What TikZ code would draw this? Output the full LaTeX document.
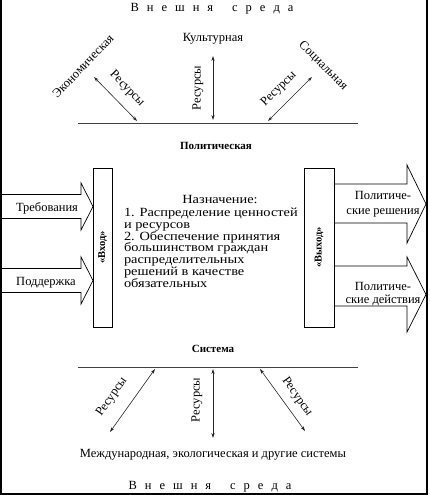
\documentclass[tikz,border=0pt]{standalone}
\usepackage{fontspec}
\setmainfont{Liberation Serif}
\newfontfamily\widefont[FakeStretch=1.15]{Liberation Serif}
\usetikzlibrary{arrows.meta}
\newcommand\lsp{\kern8pt}
\begin{document}
\begin{tikzpicture}[x=1pt,y=-1pt,
  every node/.style={inner sep=0pt, outer sep=0pt},
  lbl/.style={font=\fontsize{12.5}{14}\selectfont},
  bld/.style={font=\bfseries\fontsize{11}{13}\selectfont},
  midtxt/.style={font=\widefont\fontsize{12.5}{12}\selectfont, anchor=base west},
  res/.style={line width=0.6pt, black!85, {Stealth[length=5pt,width=3.2pt]}-{Stealth[length=5pt,width=3.2pt]}},
  blk/.style={line width=0.7pt, line join=miter},
  hline/.style={line width=0.6pt, black!75},
  ioBox/.style={draw, line width=0.7pt, rotate=90, minimum width=159pt, font=\bfseries\fontsize{10.5}{12}\selectfont}
]
\useasboundingbox (0,0) rectangle (429,495);
% frame
\draw[line width=2pt] (1,0) -- (1,493.5) -- (426.5,493.5) -- (426.5,0);

% top environment label
\node[lbl, anchor=base] (envtop) at (212,12) {В\lsp н\lsp е\lsp ш\lsp н\lsp я\lsp\kern11pt с\lsp р\lsp е\lsp д\lsp а};
\node[lbl, anchor=base] (envbot) at (210,489.5) {В\lsp н\lsp е\lsp ш\lsp н\lsp я\lsp\kern11pt с\lsp р\lsp е\lsp д\lsp а};

% top subsystems
\node[lbl, anchor=base] (cult) at (213,42) {Культурная};
\node[lbl, rotate=46] (econ) at (83,66) {Экономическая};
\node[lbl, rotate=-45] (soc) at (323,66) {Социальная};

% top line
\coordinate (tla) at (78,123);
\coordinate (tlb) at (358,123);
\draw[hline] (tla) -- (tlb);

% top resource arrows
\coordinate (a1s) at (137,121); \coordinate (a1e) at (94,77);
\coordinate (a2s) at (213,120); \coordinate (a2e) at (213,56);
\coordinate (a3s) at (268,121); \coordinate (a3e) at (312,77);
\draw[res] (a1s) -- (a1e);
\draw[res] (a2s) -- (a2e);
\draw[res] (a3s) -- (a3e);
\node[lbl, rotate=-46] (r1) at (127,89) {Ресурсы};
\node[lbl, rotate=90] (r2) at (198,88) {Ресурсы};
\node[lbl, rotate=45] (r3) at (279,89) {Ресурсы};

% political system
\node[bld, anchor=base] (pol) at (216,149) {Политическая};
\node[bld, anchor=base] (sys) at (213,352) {Система};

% input / output boxes
\node[ioBox, minimum height=19pt] (vin) at (102.5,247.5) {«Вход»};
\node[ioBox, minimum height=30pt] (vout) at (319,247.5) {«Выход»};

% input arrows
\draw[blk] (0,194.5) -- (81,194.5) -- (81,183) -- (93,206.5) -- (81,230) -- (81,218.5) -- (0,218.5);
\draw[blk] (0,268.5) -- (81,268.5) -- (81,257) -- (93,280.5) -- (81,304) -- (81,292.5) -- (0,292.5);
\node[lbl, anchor=base] (dem) at (47,211) {Требования};
\node[lbl, anchor=base] (sup) at (46,285) {Поддержка};

% output arrows
\draw[blk] (334,184) -- (407,184) -- (407,165) -- (426,204) -- (407,243) -- (407,223) -- (334,223);
\draw[blk] (334,266) -- (407,266) -- (407,257) -- (426,294.5) -- (407,332) -- (407,306) -- (334,306);
\node[lbl, anchor=base] (o1a) at (383,199) {Политиче-};
\node[lbl, anchor=base] (o1b) at (383,214.5) {ские решения};
\node[lbl, anchor=base] (o2a) at (383,290) {Политиче-};
\node[lbl, anchor=base] (o2b) at (383,303.5) {ские действия};

% purpose text
\node[midtxt, anchor=base] (m0) at (220,203.5) {Назначение:};
\node[midtxt] (m1) at (124,216.5) {1. Распределение ценностей};
\node[midtxt] (m2) at (124,228.3) {и ресурсов};
\node[midtxt] (m3) at (124,240.1) {2. Обеспечение принятия};
\node[midtxt] (m4) at (124,251.9) {большинством граждан};
\node[midtxt] (m5) at (124,263.7) {распределительных};
\node[midtxt] (m6) at (124,275.5) {решений в качестве};
\node[midtxt] (m7) at (124,287.3) {обязательных};

% bottom line
\coordinate (bla) at (78,367);
\coordinate (blb) at (358,367);
\draw[hline] (bla) -- (blb);

% bottom resource arrows
\coordinate (b1s) at (155,369); \coordinate (b1e) at (110,432);
\coordinate (b2s) at (213,369); \coordinate (b2e) at (213,438);
\coordinate (b3s) at (260,369); \coordinate (b3e) at (305,431);
\draw[res] (b1s) -- (b1e);
\draw[res] (b2s) -- (b2e);
\draw[res] (b3s) -- (b3e);
\node[lbl, rotate=55] (br1) at (112,397) {Ресурсы};
\node[lbl, rotate=90] (br2) at (197,400) {Ресурсы};
\node[lbl, rotate=-55] (br3) at (297,397) {Ресурсы};

\node[lbl, anchor=base] (intl) at (213,457) {Международная, экологическая и другие системы};
\end{tikzpicture}
\end{document}
